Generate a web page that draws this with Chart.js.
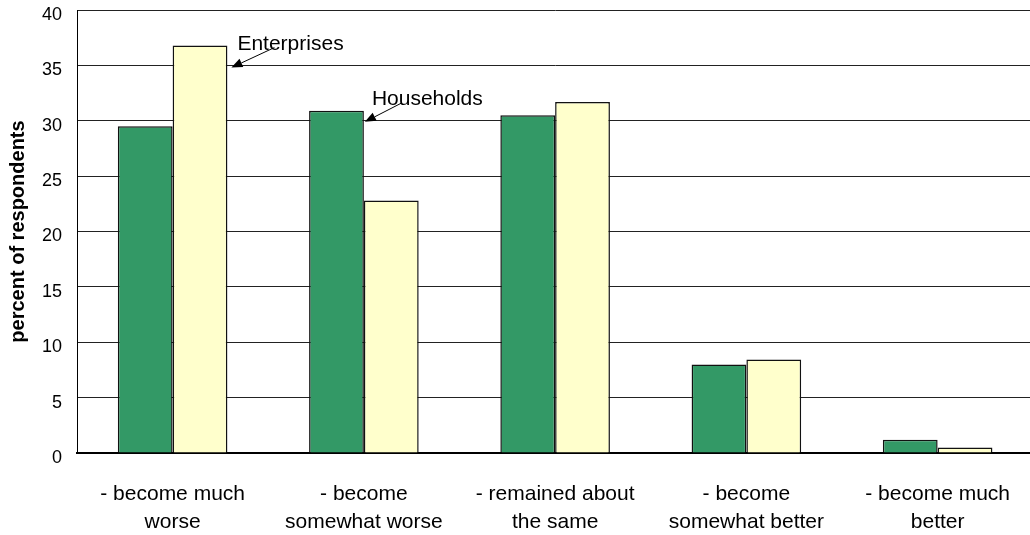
<!DOCTYPE html>
<html>
<head>
<meta charset="utf-8">
<script src="https://cdn.jsdelivr.net/npm/chart.js@4.4.1/dist/chart.umd.min.js"></script>
<style>
  html, body { margin: 0; padding: 0; background: #fff; overflow: hidden; }
  #wrap { position: relative; width: 1037px; height: 535px; }
</style>
</head>
<body>
<div id="wrap"><canvas id="c"></canvas></div>
<script>
const categories = [
  ['- become much', 'worse'],
  ['- become', 'somewhat worse'],
  ['- remained about', 'the same'],
  ['- become', 'somewhat better'],
  ['- become much', 'better']
];
const households = [29.5, 30.9, 30.5, 8.0, 1.2];
const enterprises = [36.8, 22.8, 31.7, 8.45, 0.5];
const yTicks = [0, 5, 10, 15, 20, 25, 30, 35, 40];

const FONT = "'Liberation Sans', Arial, Helvetica, sans-serif";

function arrow(ctx, tx, ty, fx, fy) {
  ctx.save();
  ctx.strokeStyle = '#000';
  ctx.fillStyle = '#000';
  ctx.lineWidth = 1;
  const ang = Math.atan2(ty - fy, tx - fx);
  const L = 11, W = 4.5;
  const bx = tx - L * Math.cos(ang), by = ty - L * Math.sin(ang);
  ctx.beginPath();
  ctx.moveTo(fx, fy);
  ctx.lineTo(bx, by);
  ctx.stroke();
  ctx.beginPath();
  ctx.moveTo(tx, ty);
  ctx.lineTo(bx + W * Math.sin(ang), by - W * Math.cos(ang));
  ctx.lineTo(bx - W * Math.sin(ang), by + W * Math.cos(ang));
  ctx.closePath();
  ctx.fill();
  ctx.restore();
}

const annotations = {
  id: 'annotations',
  afterDatasetsDraw(chart) {
    const ctx = chart.ctx;
    const y = chart.scales.y;
    const entBar = chart.getDatasetMeta(1).data[0];
    const hhBar = chart.getDatasetMeta(0).data[1];
    ctx.save();
    ctx.font = "21px " + FONT;
    ctx.fillStyle = '#000';
    ctx.textAlign = 'left';
    ctx.textBaseline = 'alphabetic';
    // Enterprises
    let tx = entBar.x + entBar.width / 2 + 4, ty = y.getPixelForValue(34.8);
    ctx.fillText('Enterprises', tx + 6, ty - 17.5);
    arrow(ctx, tx, ty, tx + 43, ty - 20);
    // Households
    tx = hhBar.x + hhBar.width / 2 + 1; ty = y.getPixelForValue(29.9);
    ctx.fillText('Households', tx + 7, ty - 16.5);
    arrow(ctx, tx, ty, tx + 37, ty - 19);
    ctx.restore();
  }
};

new Chart(document.getElementById('c'), {
  type: 'bar',
  data: {
    labels: categories,
    datasets: [
      { label: 'Households', data: households, backgroundColor: '#339966',
        borderColor: '#111', borderWidth: 1.5, borderSkipped: 'bottom' },
      { label: 'Enterprises', data: enterprises, backgroundColor: '#FFFFCC',
        borderColor: '#111', borderWidth: 1.5, borderSkipped: 'bottom' }
    ]
  },
  options: {
    responsive: true,
    maintainAspectRatio: false,
    animation: false,
    layout: { padding: { top: 10, left: 0, right: 0, bottom: 0 } },
    datasets: { bar: { categoryPercentage: 0.573, barPercentage: 1.0 } },
    plugins: { legend: { display: false }, tooltip: { enabled: false } },
    scales: {
      x: {
        grid: { display: false, drawTicks: false },
        border: { display: true, color: '#000', width: 2 },
        ticks: { color: '#000', font: { family: FONT, size: 21, lineHeight: 1.35 }, padding: 27, maxRotation: 0, autoSkip: false },
        afterFit: s => { s.height = 82; }
      },
      y: {
        min: 0, max: 40,
        afterBuildTicks: s => { s.ticks = yTicks.map(v => ({ value: v })); },
        grid: { color: '#222', lineWidth: 1, drawTicks: false },
        border: { display: true, color: '#000', width: 1 },
        ticks: { color: '#000', font: { family: FONT, size: 18 }, padding: 15, labelOffset: 5 },
        title: { display: true, text: 'percent of respondents', color: '#000',
          font: { family: FONT, size: 20, weight: 'bold' }, padding: { top: 6, bottom: 0 } },
        afterFit: s => { s.width = 77; s.paddingTop = 0; s.paddingBottom = 0; }
      }
    }
  },
  plugins: [annotations]
});
</script>
</body>
</html>
